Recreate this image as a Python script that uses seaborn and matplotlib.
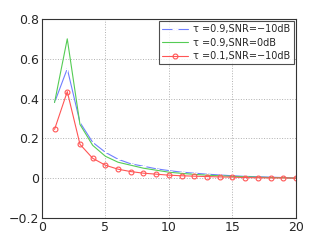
import matplotlib
matplotlib.use("Agg")
import matplotlib.pyplot as plt
import pandas as pd
import seaborn as sns

n = list(range(1, 21))
blue = [0.38, 0.55, 0.28, 0.18, 0.13, 0.095, 0.072, 0.06, 0.047, 0.038,
        0.03, 0.025, 0.02, 0.016, 0.012, 0.009, 0.007, 0.005, 0.003, 0.0]
green = [0.38, 0.70, 0.27, 0.165, 0.11, 0.08, 0.065, 0.05, 0.04, 0.03,
         0.024, 0.019, 0.015, 0.012, 0.009, 0.007, 0.005, 0.003, 0.002, 0.0]
red = [0.245, 0.435, 0.17, 0.10, 0.065, 0.045, 0.033, 0.025, 0.02, 0.015,
       0.012, 0.01, 0.008, 0.006, 0.005, 0.003, 0.002, 0.001, 0.001, 0.0]
labels = ["τ =0.9,SNR=\u221210dB", "τ =0.9,SNR=0dB", "τ =0.1,SNR=\u221210dB"]

sns.set_style("white")
plt.rcParams["font.family"] = ["DejaVu Sans"]

fig = plt.figure(figsize=(3.27, 2.46), dpi=100)
ax = fig.add_axes([0.128, 0.114, 0.777, 0.809])

sns.lineplot(x=n, y=blue, ax=ax, color="#6f7fff", lw=0.8, marker="+",
             markersize=4, mew=0.8, label=labels[0])
sns.lineplot(x=n, y=green, ax=ax, color="#55cc55", lw=0.8, label=labels[1])
sns.lineplot(x=n, y=red, ax=ax, color="#ff5555", lw=0.8, marker="o",
             markersize=3.5, mfc="none", mec="#ff5555", mew=0.8, label=labels[2])

ax.set_xlim(0, 20)
ax.set_ylim(-0.2, 0.8)
ax.set_xticks([0, 5, 10, 15, 20])
ax.set_yticks([-0.2, 0, 0.2, 0.4, 0.6, 0.8])
ax.set_yticklabels(["\u22120.2", "0", "0.2", "0.4", "0.6", "0.8"])
ax.tick_params(labelsize=9, length=3, direction="in", pad=2)
ax.grid(True, linestyle=":", color="#b0b0b0", lw=0.7)
for s in ax.spines.values():
    s.set_color("#333333")
    s.set_linewidth(0.8)

leg = ax.legend(loc="upper right", fontsize=7, frameon=True, fancybox=False,
                borderpad=0.35, labelspacing=0.35, handlelength=2.6,
                handletextpad=0.6, borderaxespad=0.2)
leg.get_frame().set_edgecolor("#222222")
leg.get_frame().set_linewidth(0.8)

fig.savefig("out.png", dpi=100)
